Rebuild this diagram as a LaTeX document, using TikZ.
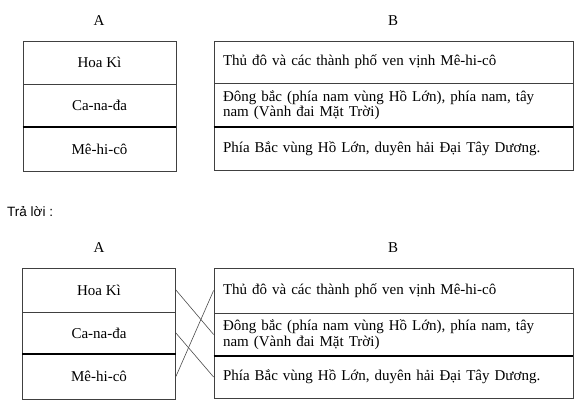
\documentclass[tikz,border=0pt]{standalone}
\usepackage{fontspec}
\setmainfont{Liberation Serif}
\newfontfamily\answerfont{Liberation Sans}
\begin{document}
\begin{tikzpicture}[x=1pt,y=-1pt,
  every node/.style={font=\fontsize{15}{15.5}\selectfont},
  lcell/.style={draw=black!75,line width=0.8pt,minimum width=153pt,inner sep=0pt,anchor=center},
  rcell/.style={draw=black!75,line width=0.8pt,minimum width=359pt,text width=341pt,inner xsep=9pt,inner ysep=1pt,align=left,anchor=center},
  thick sep/.style={draw=black,line width=1.8pt},
  link/.style={draw=black!70,line width=0.6pt},
  head/.style={font=\fontsize{15}{15}\selectfont}]
\useasboundingbox (0,0) rectangle (586,411);
% top table
\node[head] (hA1) at (99,21) {A};
\node[head] (hB1) at (393,21) {B};
\node[lcell,minimum height=43pt] (a1) at (99.5,62.5) {Hoa Kì};
\node[lcell,minimum height=43pt] (a2) at (99.5,105.5) {Ca-na-đa};
\node[lcell,minimum height=44pt] (a3) at (99.5,149) {Mê-hi-cô};
\node[rcell,minimum height=42pt] (b1) at (393.5,62) {Thủ đô và các thành phố ven vịnh Mê-hi-cô};
\node[rcell,minimum height=44pt] (b2) at (393.5,105) {Đông bắc (phía nam vùng Hồ Lớn), phía nam, tây\\nam (Vành đai Mặt Trời)};
\node[rcell,minimum height=43pt] (b3) at (393.5,148.5) {Phía Bắc vùng Hồ Lớn, duyên hải Đại Tây Dương.};
\draw[thick sep] (a2.south west) -- (a2.south east);
\draw[thick sep] (b2.south west) -- (b2.south east);
% answer label
\node[anchor=west,font=\answerfont\fontsize{13.5}{15}\selectfont,inner sep=0pt] (ans) at (7,212) {Trả lời :};
% bottom table
\node[head] (hA2) at (99,248) {A};
\node[head] (hB2) at (393,248) {B};
\node[lcell,minimum height=44pt] (c1) at (99,290) {Hoa Kì};
\node[lcell,minimum height=42pt] (c2) at (99,333) {Ca-na-đa};
\node[lcell,minimum height=45pt] (c3) at (99,376.5) {Mê-hi-cô};
\node[rcell,minimum height=45pt] (d1) at (393.5,290.5) {Thủ đô và các thành phố ven vịnh Mê-hi-cô};
\node[rcell,minimum height=43pt] (d2) at (393.5,334.5) {Đông bắc (phía nam vùng Hồ Lớn), phía nam, tây\\nam (Vành đai Mặt Trời)};
\node[rcell,minimum height=42pt] (d3) at (393.5,377) {Phía Bắc vùng Hồ Lớn, duyên hải Đại Tây Dương.};
\draw[thick sep] (c2.south west) -- (c2.south east);
\draw[thick sep] (d2.south west) -- (d2.south east);
% connectors
\draw[link] (c1.east) -- (d2.west);
\draw[link] (c2.east) -- (d3.west);
\draw[link] (c3.east) -- (d1.west);
\end{tikzpicture}
\end{document}
